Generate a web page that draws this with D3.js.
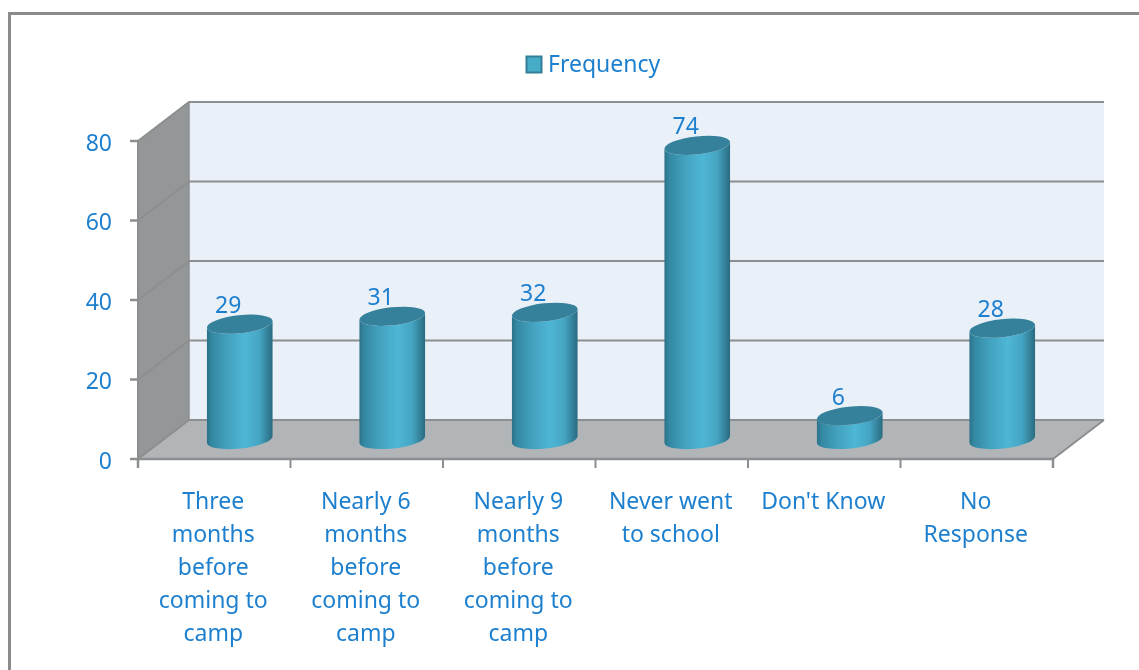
<!DOCTYPE html>
<html><head><meta charset="utf-8">
<script src="https://cdn.jsdelivr.net/npm/d3@7"></script>
<style>html,body{margin:0;padding:0;background:#fff}svg{display:block}
text{font-family:"Noto Sans",sans-serif;fill:#1f80cf}</style></head>
<body><svg id="c" width="1139" height="670"></svg>
<script>
const categories = ["Three months before coming to camp","Nearly 6 months before coming to camp","Nearly 9 months before coming to camp","Never went to school","Don't Know","No Response"];
const categoryLines = [["Three","months","before","coming to","camp"],["Nearly 6","months","before","coming to","camp"],["Nearly 9","months","before","coming to","camp"],["Never went","to school"],["Don't Know"],["No","Response"]];
const frequency = [29,31,32,74,6,28];
const yTicks = [0,20,40,60,80];
const seriesName = "Frequency";

const svg = d3.select("#c");
const FS = 23;
const depthX = 51, depthY = -39;
const x = d3.scaleBand().domain(categories).range([138,1053]).padding(0);
const y = d3.scaleLinear().domain([0,80]).range([459,141]);
const right = x.range()[1], left = x.range()[0];

// frame
svg.append("path").attr("d","M9.5,670V13.5H1139").attr("fill","none").attr("stroke","#8b8b8b").attr("stroke-width",3);

const defs = svg.append("defs");
const g = defs.append("linearGradient").attr("id","cyl").attr("x1",0).attr("x2",1).attr("y1",0).attr("y2",0);
[[0,"#2b7188"],[0.07,"#3387a1"],[0.3,"#42a1be"],[0.58,"#4fb6d5"],[0.8,"#44a5c2"],[0.93,"#337f98"],[1,"#2a6b80"]]
  .forEach(s=>g.append("stop").attr("offset",s[0]).attr("stop-color",s[1]));
const blur = defs.append("filter").attr("id","soft").attr("x","-5%").attr("y","-5%").attr("width","110%").attr("height","110%");
blur.append("feGaussianBlur").attr("stdDeviation",0.45);

const root = svg.append("g").attr("filter","url(#soft)");

// walls
root.append("path").attr("fill","#e9f0f7")
  .attr("d",`M${left+depthX},${y(0)+depthY}V${y(80)+depthY}H${right+depthX}V${y(0)+depthY}Z`);
root.append("path").attr("fill","#939798")
  .attr("d",`M${left},${y(0)}V${y(80)}L${left+depthX},${y(80)+depthY}V${y(0)+depthY}Z`);
root.append("path").attr("fill","#b1b5b8")
  .attr("d",`M${left},${y(0)}H${right}L${right+depthX},${y(0)+depthY}H${left+depthX}Z`);

// grid
const grid = root.append("g").attr("fill","none").attr("stroke","#8c8e8f").attr("stroke-width",2);
yTicks.forEach(t=>{
  grid.append("path").attr("d",`M${left},${y(t)}L${left+depthX},${y(t)+depthY}H${right+depthX}`);
});
grid.append("path").attr("d",`M${right},${y(0)}L${right+depthX},${y(0)+depthY}`);
grid.append("path").attr("d",`M${left+depthX},${y(0)+depthY}V${y(80)+depthY}`).attr("stroke-width",1.5);

// axes
const yAxis = d3.axisLeft(y).tickValues(yTicks).tickSize(8).tickPadding(18).offset(0);
const ya = root.append("g").attr("transform",`translate(${left},0)`).call(yAxis);
ya.selectAll("path.domain").attr("stroke","#8c8e8f").attr("stroke-width",2);
ya.selectAll("line").attr("stroke","#8c8e8f").attr("stroke-width",2.5);
ya.selectAll("text").attr("font-size",FS).attr("font-family",'"Noto Sans",sans-serif').attr("fill","#1f80cf").attr("dy","0.42em");

const tickPos = x.domain().map(d=>x(d)).concat([right]);
const xAxisScale = d3.scaleIdentity().domain([left,right]);
const xa = root.append("g").attr("transform",`translate(0,${y(0)})`)
  .call(d3.axisBottom(xAxisScale).tickValues(tickPos).tickSize(9).tickFormat("").offset(0));
xa.selectAll("path.domain").attr("stroke","#8c8e8f").attr("stroke-width",2.5);
xa.selectAll("line").attr("stroke","#8c8e8f").attr("stroke-width",2);

// category labels
const lab = root.append("g").selectAll("text").data(categories).join("text")
  .attr("text-anchor","middle").attr("font-size",FS);
lab.each(function(d,i){
  d3.select(this).selectAll("tspan").data(categoryLines[i]).join("tspan")
    .attr("x",x(d)+x.bandwidth()/2-1).attr("y",(l,j)=>509+j*33).text(l=>l);
});

// cylinders
const rx = 33, ry = 9, rot = 6.2, rad = rot*Math.PI/180;
const dxE = rx*Math.cos(rad), dyE = rx*Math.sin(rad);
const bars = root.append("g").selectAll("g").data(categories).join("g");
bars.each(function(d,i){
  const v = frequency[i];
  const cx = x(d)+x.bandwidth()/2+depthX/2;
  const yb = y(0)+depthY/2, yt = y(v)+depthY/2;
  const s = d3.select(this);
  s.append("path").attr("fill","url(#cyl)")
    .attr("d",`M${cx-dxE},${yt+dyE}L${cx-dxE},${yb+dyE}A${rx},${ry} ${-rot} 0 0 ${cx+dxE},${yb-dyE}L${cx+dxE},${yt-dyE}A${rx},${ry} ${-rot} 0 1 ${cx-dxE},${yt+dyE}Z`);
  s.append("ellipse").attr("cx",0).attr("cy",0).attr("rx",rx).attr("ry",ry)
    .attr("transform",`translate(${cx},${yt}) rotate(${-rot})`).attr("fill","#36809a");
  s.append("text").attr("x",cx-11.5).attr("y",yt-11).attr("text-anchor","middle").attr("font-size",FS).text(v);
});

// legend
root.append("rect").attr("x",526.5).attr("y",56.5).attr("width",15).attr("height",16)
  .attr("fill","#47acc8").attr("stroke","#327f97").attr("stroke-width",2);
root.append("text").attr("x",548).attr("y",72).attr("font-size",FS).text(seriesName);
</script></body></html>
